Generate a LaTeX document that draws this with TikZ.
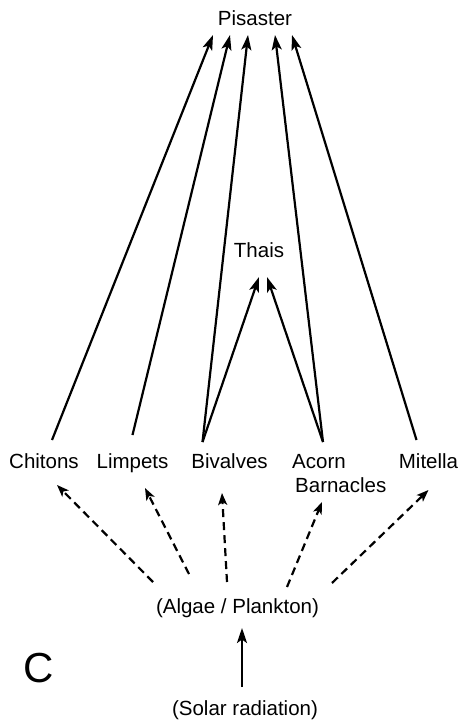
\documentclass[tikz,border=0pt]{standalone}
\usepackage{fontspec}
\setmainfont{Liberation Sans}
\usetikzlibrary{arrows.meta,calc}
\begin{document}
\begin{tikzpicture}[x=1pt,y=-1pt,
  lbl/.style={inner sep=0pt,anchor=base,font=\fontsize{20.5}{25}\selectfont},
  feed/.style={line width=2.2pt,-{Stealth[length=15pt,width=10pt,inset=3.5pt]}},
  weak/.style={line width=2.2pt,dash pattern=on 8pt off 5pt,-{Stealth[length=12pt,width=9pt,inset=3pt]}}]
\useasboundingbox (0,0) rectangle (468,723);
\node[lbl] (pis) at (255,25) {Pisaster};
\node[lbl] (tha) at (259,257) {Thais};
\node[lbl] (chi) at (44,468) {Chitons};
\node[lbl] (lim) at (132.5,468) {Limpets};
\node[lbl] (biv) at (229.5,468) {Bivalves};
\node[lbl,anchor=base west] (aco) at (292,468) {Acorn};
\node[lbl,anchor=base west] (bar) at (295,492) {Barnacles};
\node[lbl] (mit) at (428.5,468) {Mitella};
\node[lbl] (alg) at (237.5,613) {(Algae / Plankton)};
\node[lbl] (sol) at (245,715) {(Solar radiation)};
\node[inner sep=0pt,anchor=base,font=\fontsize{42}{48}\selectfont] (lc) at (38.5,682) {C};
% to Pisaster
\draw[feed] ($(chi.base)+(8,-28)$) -- ($(pis.base)+(-42,10)$);
\draw[feed] ($(lim.base)+(0,-33)$) -- ($(pis.base)+(-25,10)$);
\draw[feed] ($(biv.base)+(-27,-26)$) -- ($(pis.base)+(-7,10)$);
\draw[feed] ($(aco.base west)+(31,-26)$) -- ($(pis.base)+(20,10)$);
\draw[feed] ($(mit.base)+(-12,-28)$) -- ($(pis.base)+(37,10)$);
% to Thais
\draw[feed] ($(biv.base)+(-27,-26)$) -- ($(tha.base)+(0,20)$);
\draw[feed] ($(aco.base west)+(31,-26)$) -- ($(tha.base)+(8,20)$);
% dashed from algae
\draw[weak] ($(alg.base)+(-84.5,-31)$) -- ($(chi.base)+(13,17)$);
\draw[weak] ($(alg.base)+(-48.5,-39)$) -- ($(lim.base)+(12.5,20)$);
\draw[weak] ($(alg.base)+(-10.5,-31)$) -- ($(biv.base)+(-7.5,25)$);
\draw[weak] ($(alg.base)+(49.5,-26)$) -- ($(aco.base west)+(30,34)$);
\draw[weak] ($(alg.base)+(94.5,-30)$) -- ($(mit.base)+(0,22)$);
% solar
\draw[feed] ($(sol.base)+(-3,-28)$) -- ($(alg.base)+(4.5,15)$);
\end{tikzpicture}
\end{document}
